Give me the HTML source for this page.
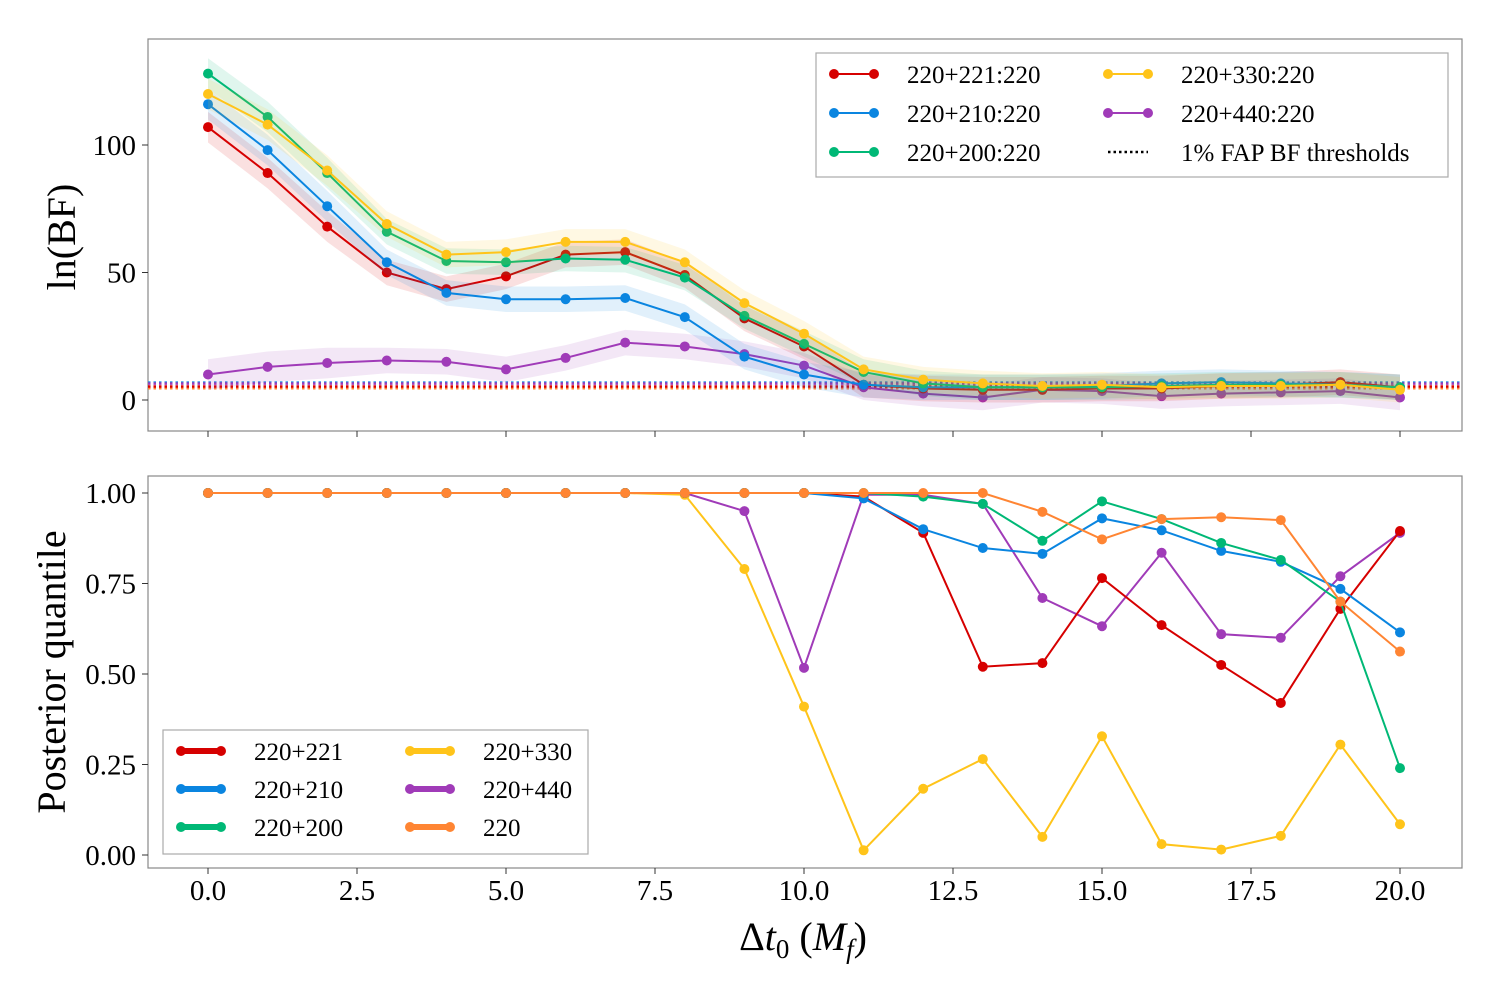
<!DOCTYPE html>
<html><head><meta charset="utf-8"><style>
body{margin:0;background:#fff}
svg{display:block;font-family:"Liberation Serif",serif}
</style></head><body>
<svg id="chart" width="1500" height="1000"></svg>
<script>
const xs=[0,1,2,3,4,5,6,7,8,9,10,11,12,13,14,15,16,17,18,19,20];
const bfRed=[107,89,68,50,43.5,48.5,57,58,49,32,21,6,4.5,4,4,4.5,4.5,5.5,6,7,5];
const bfBlue=[116,98,76,54,42,39.5,39.5,40,32.5,17,10,6,5,5,5,5.5,6.5,7,6.5,6,5];
const bfGreen=[128,111,89,66,54.5,54,55.5,55,48,33,22,11,6.5,5,5,5,5.5,6,6,6,5];
const bfYellow=[120,108,90,69,57,58,62,62,54,38,26,12,8,6.5,5.5,6,5,5.5,5.5,6,4];
const bfPurple=[10,13,14.5,15.5,15,12,16.5,22.5,21,18,13.5,5,2.5,1,4,3.5,1.5,2.5,3,3.5,1];
const bandHalf=[6,6,6,5,5,5,5,5,5,5,5,5,5,5,5,5,5,5,5,5,5];
const thresholds=[6.8,6.4,5.0,4.6,5.3];
const thrColors=["#0a85e0","#a03bb8","#ffc41a","#ff8533","#d60000"];
const qRed=[1,1,1,1,1,1,1,1,1,1,1,0.99,0.89,0.52,0.53,0.765,0.635,0.525,0.42,0.68,0.895];
const qBlue=[1,1,1,1,1,1,1,1,1,1,1,0.985,0.90,0.848,0.832,0.93,0.897,0.84,0.81,0.735,0.615];
const qGreen=[1,1,1,1,1,1,1,1,1,1,1,1,0.99,0.97,0.868,0.977,0.928,0.862,0.815,0.7,0.24];
const qYellow=[1,1,1,1,1,1,1,1,0.995,0.79,0.41,0.013,0.183,0.265,0.05,0.328,0.03,0.015,0.053,0.305,0.085];
const qPurple=[1,1,1,1,1,1,1,1,1,0.95,0.517,0.995,0.995,0.97,0.71,0.632,0.835,0.61,0.6,0.77,0.89];
const qOrange=[1,1,1,1,1,1,1,1,1,1,1,1,1,1,0.948,0.872,0.928,0.933,0.925,0.7,0.562];
const xTicks=["0.0","2.5","5.0","7.5","10.0","12.5","15.0","17.5","20.0"];
const yTopTicks=[0,50,100];
const yBotTicks=["0.00","0.25","0.50","0.75","1.00"];

const C={red:"#d60000",blue:"#0a85e0",green:"#00b876",yellow:"#ffc41a",purple:"#a03bb8",orange:"#ff8533"};
const svg=document.getElementById('chart');
const NS="http://www.w3.org/2000/svg";
function mk(tag,attrs,parent){const e=document.createElementNS(NS,tag);for(const k in attrs)e.setAttribute(k,attrs[k]);(parent||svg).appendChild(e);return e;}
const X=v=>208+v*59.6;
const YT=v=>400-v*2.55;
const YB=v=>855-v*362;

function panel(y0,y1,name){
  const r=mk('rect',{x:148,y:y0,width:1314,height:y1-y0,fill:'none',stroke:'#888','stroke-width':1.2});
  
  
}
panel(39,431,'top-panel');
panel(476,868,'bottom-panel');

// x ticks
xTicks.forEach(t=>{
  const v=parseFloat(t);
  mk('line',{x1:X(v),x2:X(v),y1:431,y2:437,stroke:'#333'});
  mk('line',{x1:X(v),x2:X(v),y1:868,y2:874,stroke:'#333'});
  const tx=mk('text',{x:X(v),y:900,'font-size':29,'text-anchor':'middle'});
  tx.textContent=t;
  
  
});
yTopTicks.forEach(v=>{
  mk('line',{x1:142,x2:148,y1:YT(v),y2:YT(v),stroke:'#333'});
  const tx=mk('text',{x:136,y:YT(v)+10,'font-size':29,'text-anchor':'end'});
  tx.textContent=v;
  
  
});
yBotTicks.forEach(t=>{
  const v=parseFloat(t);
  mk('line',{x1:142,x2:148,y1:YB(v),y2:YB(v),stroke:'#333'});
  const tx=mk('text',{x:136,y:YB(v)+10,'font-size':29,'text-anchor':'end'});
  tx.textContent=t;
  
  
});
// titles
let t=mk('text',{x:75,y:237,'font-size':40,'text-anchor':'middle',transform:'rotate(-90 75 237)'});
t.textContent='ln(BF)';


t=mk('text',{x:65,y:672,'font-size':40,'text-anchor':'middle',transform:'rotate(-90 65 672)'});
t.textContent='Posterior quantile';


t=mk('text',{x:803,y:950,'font-size':40,'text-anchor':'middle'});
t.innerHTML='Δ<tspan font-style="italic">t</tspan><tspan font-size="27" dy="8">0</tspan><tspan dy="-8"> (</tspan><tspan font-style="italic">M</tspan><tspan font-size="27" font-style="italic" dy="8">f</tspan><tspan dy="-8">)</tspan>';



// thresholds
thresholds.forEach((v,i)=>{
  const l=mk('line',{x1:148,x2:1462,y1:YT(v),y2:YT(v),stroke:thrColors[i],'stroke-width':2.5,'stroke-dasharray':'2.5 3'});
  
  
});

function series(vals,color,Y,name,band){
  const g=mk('g',{});
  
  
  if(band){
    let d='M'+xs.map((x,i)=>X(x)+','+Y(vals[i]+bandHalf[i])).join('L');
    d+='L'+xs.slice().reverse().map((x,j)=>{const i=xs.length-1-j;return X(x)+','+Y(vals[i]-bandHalf[i]);}).join('L')+'Z';
    mk('path',{d:d,fill:color,'fill-opacity':0.12},g);
  }
  mk('polyline',{points:xs.map((x,i)=>X(x)+','+Y(vals[i])).join(' '),fill:'none',stroke:color,'stroke-width':2},g);
  xs.forEach((x,i)=>mk('circle',{cx:X(x),cy:Y(vals[i]),r:5,fill:color},g));
}
series(bfPurple,C.purple,YT,'bf-220-440',true);
series(bfRed,C.red,YT,'bf-220-221',true);
series(bfBlue,C.blue,YT,'bf-220-210',true);
series(bfGreen,C.green,YT,'bf-220-200',true);
series(bfYellow,C.yellow,YT,'bf-220-330',true);

series(qYellow,C.yellow,YB,'q-220-330',false);
series(qPurple,C.purple,YB,'q-220-440',false);
series(qRed,C.red,YB,'q-220-221',false);
series(qBlue,C.blue,YB,'q-220-210',false);
series(qGreen,C.green,YB,'q-220-200',false);
series(qOrange,C.orange,YB,'q-220',false);

// legends
function legend(x,y,w,h,entries,name,thick){
  const g=mk('g',{});
  
  
  mk('rect',{x:x,y:y,width:w,height:h,fill:'#fff','fill-opacity':0.85,stroke:'#aaa','stroke-width':1.2},g);
  entries.forEach(e=>{
    const [ex,ey,color,label,dotted]=e;
    const eg=mk('g',{},g);
    
    
    if(dotted){mk('line',{x1:ex,x2:ex+40,y1:ey,y2:ey,stroke:'#000','stroke-width':2.5,'stroke-dasharray':'2.5 3'},eg);}
    else{
      mk('line',{x1:ex,x2:ex+40,y1:ey,y2:ey,stroke:color,'stroke-width':thick?6:2},eg);
      mk('circle',{cx:ex,cy:ey,r:5,fill:color},eg);mk('circle',{cx:ex+40,cy:ey,r:5,fill:color},eg);
    }
    const tx=mk('text',{x:ex+73,y:ey+9,'font-size':25},eg);tx.textContent=label;
  });
}
legend(816,53,632,124,[
 [834,74,C.red,'220+221:220'],[834,113,C.blue,'220+210:220'],[834,152,C.green,'220+200:220'],
 [1108,74,C.yellow,'220+330:220'],[1108,113,C.purple,'220+440:220'],[1108,152,'#000','1% FAP BF thresholds',true]
],'legend-top',false);
legend(163,730,425,124,[
 [181,751,C.red,'220+221'],[181,789,C.blue,'220+210'],[181,827,C.green,'220+200'],
 [410,751,C.yellow,'220+330'],[410,789,C.purple,'220+440'],[410,827,C.orange,'220']
],'legend-bottom',true);
</script>
</body></html>
